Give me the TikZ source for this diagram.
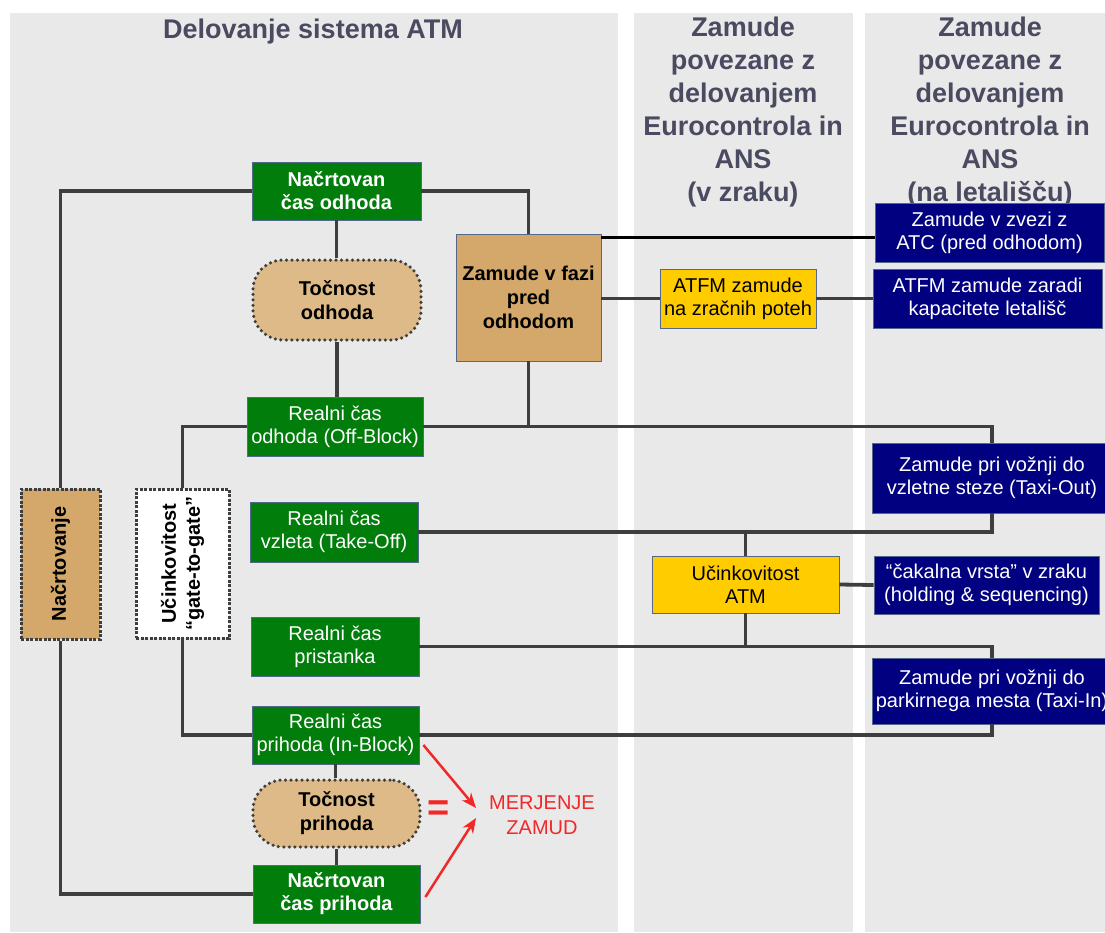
\documentclass[tikz,border=0pt]{standalone}
\usepackage{fontspec}
\setmainfont{Liberation Sans}
\usetikzlibrary{arrows.meta}

\definecolor{panelgray}{RGB}{233,233,233}
\definecolor{headgray}{RGB}{74,74,96}
\definecolor{atmgreen}{RGB}{0,125,10}
\definecolor{atmtan}{RGB}{212,168,106}
\definecolor{atmlighttan}{RGB}{222,186,136}
\definecolor{atmyellow}{RGB}{255,204,0}
\definecolor{atmnavy}{RGB}{0,0,128}
\definecolor{edgeblue}{RGB}{84,104,140}
\definecolor{wiregray}{RGB}{62,62,62}
\definecolor{atmred}{RGB}{240,40,40}

\begin{document}
\begin{tikzpicture}[x=1pt, y=-1pt]
\tikzstyle{box}=[draw=edgeblue, line width=0.8pt, inner sep=0pt, align=center, font=\fontsize{20}{23}\selectfont];
\tikzstyle{greenbox}=[box, fill=atmgreen, text=white];
\tikzstyle{navybox}=[box, fill=atmnavy, text=white];
\tikzstyle{yellowbox}=[box, fill=atmyellow, text=black];
\tikzstyle{tanbox}=[box, fill=atmtan, text=black, font=\fontsize{20}{24}\selectfont\bfseries];
\tikzstyle{dotround}=[box, draw=wiregray, line width=3.5pt, line cap=round, dash pattern=on 0pt off 5.5pt, fill=atmlighttan, rounded corners=30pt, font=\fontsize{20}{24}\selectfont\bfseries];
\tikzstyle{dotbox}=[box, draw=wiregray, line width=3pt, dash pattern=on 3pt off 1.5pt];
\tikzstyle{head}=[align=center, text=headgray, inner sep=0pt, font=\fontsize{27}{33}\selectfont\bfseries];
\tikzstyle{wire}=[draw=wiregray, line width=3.8pt];
\tikzstyle{redarrow}=[draw=atmred, line width=2.5pt, -{Stealth[length=15pt, width=12pt]}];

\useasboundingbox (0,0) rectangle (1105,932);
\fill[white] (0,0) rectangle (1105,932);
% background panels
\fill[panelgray] (10,13) rectangle (618,932);
\fill[panelgray] (634,13) rectangle (853,932);
\fill[panelgray] (865,13) rectangle (1105,932);

\node[head, anchor=base] (h1) at (313,38) {Delovanje sistema ATM};
\node[head, anchor=north] (h2) at (743,17) {Zamude\\povezane z\\delovanjem\\Eurocontrola in\\ANS\\(v zraku)};
\node[head, anchor=north] (h3) at (990,17) {Zamude\\povezane z\\delovanjem\\Eurocontrola in\\ANS\\(na letališču)};

% times
\node[greenbox, font=\fontsize{20}{23}\selectfont\bfseries, minimum width=169pt, minimum height=58pt] (nodh) at (336.5,191) {Načrtovan\\čas odhoda};
\node[dotround, minimum width=168pt, minimum height=80pt] (todh) at (337,300) {Točnost\\odhoda};
\node[greenbox, minimum width=176pt, minimum height=59pt] (roff) at (335,426.5) {Realni čas\\odhoda (Off-Block)};
\node[greenbox, minimum width=168pt, minimum height=60pt] (rtake) at (334,532) {Realni čas\\vzleta (Take-Off)};
\node[greenbox, minimum width=168pt, minimum height=59pt] (rpri) at (335,646.5) {Realni čas\\pristanka};
\node[greenbox, minimum width=167pt, minimum height=58pt] (rin) at (335.5,735) {Realni čas\\prihoda (In-Block)};
\node[dotround, minimum width=167pt, minimum height=67pt] (tpri) at (336.5,813.5) {Točnost\\prihoda};
\node[greenbox, font=\fontsize{20}{23}\selectfont\bfseries, minimum width=167pt, minimum height=58pt] (npri) at (336.5,894) {Načrtovan\\čas prihoda};

% vertical labels
\node[dotbox, fill=atmtan, minimum width=79pt, minimum height=150pt] (nacrt) at (60.5,564) {};
\node[rotate=90, inner sep=0pt, font=\fontsize{20}{24}\selectfont\bfseries] (nacrtlbl) at (nacrt) {Načrtovanje};
\node[dotbox, fill=white, minimum width=93pt, minimum height=149pt] (ucin) at (182.5,563.5) {};
\node[rotate=90, inner sep=0pt, align=center, font=\fontsize{20}{24}\selectfont\bfseries] (ucinlbl) at (ucin) {Učinkovitost\\“gate-to-gate”};

% delays
\node[tanbox, minimum width=145pt, minimum height=127pt] (zpred) at (528.5,297.5) {Zamude v fazi\\pred\\odhodom};
\node[yellowbox, minimum width=156pt, minimum height=59pt] (atfm) at (738,298.5) {ATFM zamude\\na zračnih poteh};
\node[yellowbox, minimum width=187pt, minimum height=57pt] (uatm) at (745.5,584.5) {Učinkovitost\\ATM};
\node[navybox, minimum width=229pt, minimum height=59pt] (atc) at (989.5,232.5) {Zamude v zvezi z\\ATC (pred odhodom)};
\node[navybox, minimum width=229pt, minimum height=59pt] (kap) at (987.5,298.5) {ATFM zamude zaradi\\kapacitete letališč};
\node[navybox, minimum width=240pt, minimum height=70pt] (tout) at (992,478) {Zamude pri vožnji do\\vzletne steze (Taxi-Out)};
\node[navybox, minimum width=225pt, minimum height=58pt] (hold) at (986.5,585) {“čakalna vrsta” v zraku\\(holding \& sequencing)};
\node[navybox, minimum width=240pt, minimum height=66pt] (tin) at (992,691) {Zamude pri vožnji do\\parkirnega mesta (Taxi-In)};

% measuring
\node[text=atmred, inner sep=0pt, font=\fontsize{38}{38}\selectfont\bfseries] (eq) at (439,811) {=};
\node[text=atmred, inner sep=0pt, align=center, font=\fontsize{20}{25}\selectfont] (meas) at (542,815) {MERJENJE\\ZAMUD};

\draw[wire] (nodh.west) -| (nacrt.north);
\draw[wire] (nodh.east) -| (zpred.north);
\draw[wire] (nodh.south) -- (nodh.south |- todh.north);
\draw[wire] (todh.south) -- (todh.south |- roff.north);
\draw[wire] (roff.west) -| (ucin.north);
\draw[wire] (roff.east) -| (tout.north);
\draw[wire] (zpred.south) -- (zpred.south |- roff.east);
\draw[wire, draw=black] ([yshift=-5pt]atc.west) -- ([yshift=-5pt]atc.west -| zpred.east);
\draw[wire] (zpred.east |- atfm.west) -- (atfm.west);
\draw[wire] (atfm.east) -- (kap.west);
\draw[wire] (rtake.east) -| (tout.south);
\draw[wire] (uatm.north) -- (uatm.north |- rtake.east);
\draw[wire] (uatm.east) -- (hold.west);
\draw[wire] (uatm.south) -- (uatm.south |- rpri.east);
\draw[wire] (rpri.east) -| (tin.north);
\draw[wire] (rin.east) -| (tin.south);
\draw[wire] (rin.west) -| (ucin.south);
\draw[wire] (npri.west) -| (nacrt.south);
\draw[wire] (rin.south) -- (rin.south |- tpri.north);
\draw[wire] (tpri.south) -- (tpri.south |- npri.north);
\draw[redarrow] ([xshift=4pt, yshift=-10pt]rin.east) -- ([xshift=-13pt, yshift=7pt]meas.west);
\draw[redarrow] ([xshift=5pt, yshift=-3pt]npri.east) -- ([xshift=-13pt, yshift=-3pt]meas.west);
\end{tikzpicture}
\end{document}
